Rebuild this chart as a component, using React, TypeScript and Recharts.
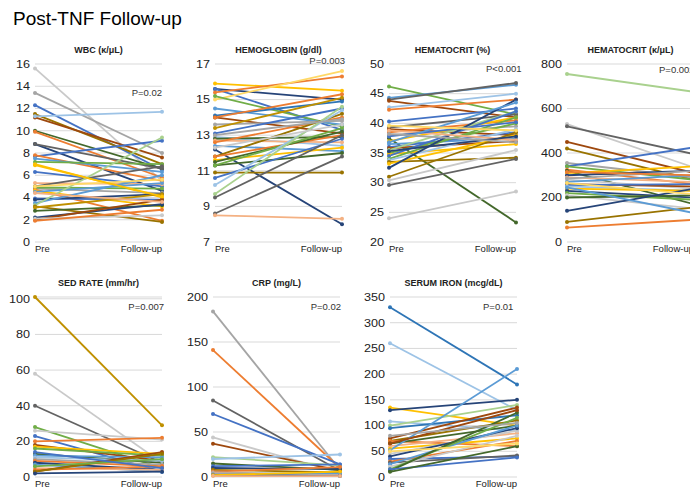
import React from 'react';
import { LineChart, Line, XAxis, YAxis, CartesianGrid } from 'recharts';

// office-style colours
const C: Record<string, string> = {
  B: '#4472C4', O: '#ED7D31', G: '#A5A5A5', Y: '#FFC000', L: '#5B9BD5', N: '#70AD47',
  DB: '#264478', DO: '#9E480E', DG: '#636363', DY: '#997300', LB: '#9DC3E6', LO: '#F4B183',
  LG: '#C9C9C9', LN: '#A9D18E', DN: '#43682B', YL: '#FFD966', GD: '#BF9000', MB: '#2E75B6',
};

const timepoints = ['Pre', 'Follow-up'];

const wbcPre = [15.6, 13.4, 12.3, 11.5, 11.2, 11.3, 10.0, 9.9, 8.8, 8.8, 7.7, 7.8, 7.5, 7.2, 7.0, 6.3, 5.3, 5.0, 4.8, 4.9, 4.7, 4.6, 4.5, 3.9, 3.8, 3.5, 3.3, 3.2, 3.1, 2.8, 2.2, 2.0, 2.1, 1.9, 5.0, 6.9, 4.4];
const wbcPost = [5.5, 8.0, 6.5, 7.0, 7.6, 11.7, 6.6, 5.8, 4.6, 6.6, 9.1, 5.5, 6.3, 7.0, 4.0, 5.0, 5.2, 6.8, 4.4, 4.8, 1.9, 3.2, 5.3, 3.8, 4.3, 6.0, 9.4, 1.8, 4.3, 3.3, 3.4, 3.8, 2.4, 2.9, 5.6, 4.1, 3.6];
const wbcColors = ['LG', 'G', 'B', 'DY', 'DO', 'LB', 'DN', 'O', 'DB', 'DG', 'B', 'O', 'L', 'N', 'Y', 'B', 'LO', 'DG', 'G', 'N', 'O', 'Y', 'L', 'B', 'DB', 'L', 'LN', 'DY', 'GD', 'DN', 'DB', 'DO', 'LG', 'O', 'YL', 'Y', 'LO'];

const hgbPre = [15.9, 15.6, 15.6, 15.4, 15.0, 15.2, 14.5, 14.1, 14.0, 14.0, 13.6, 13.4, 13.1, 12.9, 12.8, 12.7, 12.6, 12.4, 12.2, 11.8, 11.8, 11.6, 11.5, 11.3, 11.3, 10.9, 10.6, 10.2, 9.7, 9.5, 8.6, 8.5, 13.0, 12.3];
const hgbPost = [15.5, 15.0, 13.3, 16.3, 16.6, 13.5, 13.6, 14.9, 13.1, 15.3, 13.8, 15.1, 14.5, 12.4, 12.9, 12.6, 14.0, 12.1, 8.0, 14.2, 13.0, 12.3, 13.2, 12.0, 13.4, 10.9, 12.8, 14.4, 14.6, 13.0, 11.8, 8.3, 13.9, 13.6];
const hgbColors = ['Y', 'DB', 'B', 'O', 'YL', 'N', 'L', 'MB', 'DO', 'O', 'G', 'GD', 'B', 'LB', 'DN', 'LO', 'O', 'L', 'DB', 'DY', 'O', 'Y', 'DN', 'DN', 'N', 'DY', 'B', 'LB', 'LN', 'DG', 'DG', 'LO', 'G', 'LG'];

const hctPre = [46.2, 44.3, 44.0, 43.8, 42.7, 42.3, 40.3, 39.3, 39.0, 38.5, 38.0, 37.5, 37.0, 36.5, 36.0, 35.8, 35.5, 35.0, 34.8, 34.5, 34.0, 33.8, 33.5, 33.2, 32.5, 31.0, 30.4, 29.6, 24.0, 38.8, 37.8, 36.8, 39.6, 35.3, 38.2];
const hctPost = [41.5, 46.5, 46.8, 41.0, 45.0, 44.0, 42.5, 41.5, 38.0, 40.5, 39.5, 23.3, 41.0, 37.5, 38.5, 37.0, 42.0, 40.0, 36.5, 42.0, 41.0, 39.0, 34.2, 38.0, 44.0, 38.5, 35.5, 34.0, 28.5, 37.2, 40.2, 43.5, 38.8, 37.8, 36.8];
const hctColors = ['N', 'L', 'DG', 'DO', 'LB', 'O', 'B', 'DG', 'DO', 'O', 'G', 'DN', 'Y', 'L', 'B', 'DO', 'LN', 'N', 'Y', 'B', 'N', 'LB', 'DY', 'Y', 'DB', 'DY', 'LG', 'DG', 'LG', 'LO', 'B', 'L', 'YL', 'DB', 'G'];

const pltPre = [755, 530, 520, 450, 420, 355, 340, 340, 325, 320, 310, 300, 290, 280, 270, 260, 255, 250, 240, 230, 220, 210, 200, 140, 90, 65, 245, 285, 315, 265];
const pltPost = [675, 335, 395, 310, 280, 290, 425, 280, 260, 170, 340, 320, 270, 240, 300, 250, 260, 230, 230, 200, 190, 150, 210, 240, 155, 100, 130, 320, 300, 215];
const pltColors = ['LN', 'LG', 'DG', 'DO', 'DY', 'G', 'B', 'N', 'O', 'DN', 'Y', 'DB', 'LO', 'LG', 'L', 'DO', 'B', 'LB', 'Y', 'DB', 'N', 'LG', 'DN', 'DB', 'DY', 'O', 'L', 'G', 'O', 'YL'];

const sedPre = [101, 58, 40, 28, 26, 23, 20, 18, 17, 16, 13, 12, 11, 10, 9, 8, 7, 5, 4, 3, 3, 2, 6, 14];
const sedPost = [29, 8, 8, 5, 21, 3, 22, 9, 13, 12, 8, 11, 9, 7, 6, 4, 3, 4, 6, 14, 13, 3, 10, 5];
const sedColors = ['GD', 'LG', 'DG', 'N', 'LG', 'B', 'O', 'DO', 'Y', 'N', 'DN', 'L', 'LB', 'G', 'O', 'DB', 'L', 'LO', 'O', 'DO', 'DY', 'DB', 'N', 'B'];

const crpPre = [184, 141, 85, 70, 44, 37, 22, 20, 15, 12, 10, 8, 6, 5, 4, 3, 2, 2, 1];
const crpPost = [8, 10, 7, 14, 5, 7, 13, 25, 8, 14, 9, 5, 11, 3, 2, 4, 1, 6, 1];
const crpColors = ['G', 'O', 'DG', 'B', 'LG', 'DO', 'LN', 'LB', 'DN', 'B', 'DB', 'DY', 'O', 'G', 'LO', 'L', 'DB', 'Y', 'LO'];

const ironPre = [330, 260, 135, 130, 108, 100, 95, 75, 70, 70, 65, 60, 55, 52, 45, 40, 35, 30, 28, 25, 20, 15, 12, 15, 10, 65, 80, 50];
const ironPost = [180, 130, 100, 150, 90, 140, 120, 135, 110, 60, 100, 85, 75, 210, 90, 95, 40, 70, 42, 100, 80, 115, 125, 38, 60, 130, 105, 65];
const ironColors = ['MB', 'LB', 'Y', 'DB', 'LB', 'LN', 'MB', 'DO', 'DY', 'O', 'DN', 'LO', 'Y', 'L', 'LG', 'DB', 'B', 'O', 'DG', 'L', 'LG', 'N', 'DN', 'B', 'DN', 'DO', 'G', 'YL'];

const FONT = '"Liberation Sans", Arial, sans-serif';
const PLOT_W = 127;
const Y_W = 36;

const YTick = (props: any) => {
  const { x, y, payload } = props;
  return (
    <g transform={`translate(${x},${y}) scale(1.2,1)`}>
      <text x={0} y={0} dy="0.36em" textAnchor="end" fontSize={10.5} fill="#222" fontFamily={FONT}>
        {payload.value}
      </text>
    </g>
  );
};

const XTick = (props: any) => {
  const { x, y, payload, index } = props;
  return (
    <text x={x} y={y} dy="0.71em" textAnchor={index === 0 ? 'start' : 'end'} fontSize={9.5} fill="#222" fontFamily={FONT}>
      {payload.value}
    </text>
  );
};

type PanelProps = {
  title: string;
  pText: string;
  pX: number;
  pY: number;
  pAlign: 'left' | 'right';
  pre: number[];
  post: number[];
  colors: string[];
  domain: [number, number];
  ticks: number[];
  left: number;
  top: number;
  plotH: number;
};

function Panel({ title, pText, pX, pY, pAlign, pre, post, colors, domain, ticks, left, top, plotH }: PanelProps) {
  const data = timepoints.map((name, t) => {
    const row: any = { name };
    pre.forEach((v, i) => {
      row[`s${i}`] = t === 0 ? v : post[i];
    });
    return row;
  });
  return (
    <>
      <div style={{ position: 'absolute', left: left - Y_W, top: top - 8 }}>
        <LineChart width={Y_W + PLOT_W + 6} height={8 + plotH + 20} data={data} margin={{ top: 8, right: 6, bottom: 0, left: 0 }}>
          <CartesianGrid vertical={false} stroke="#d9d9d9" />
          <XAxis dataKey="name" axisLine={false} tickLine={false} tickSize={0} tickMargin={3} height={20} interval={0} tick={<XTick />} />
          <YAxis type="number" domain={domain} ticks={ticks} interval={0} width={Y_W} axisLine={false} tickLine={false} tickSize={0} tickMargin={5} tick={<YTick />} />
          {pre.map((_, i) => (
            <Line
              key={i}
              type="linear"
              dataKey={`s${i}`}
              stroke={C[colors[i]]}
              strokeWidth={1.8}
              dot={{ r: 2, fill: C[colors[i]], stroke: C[colors[i]], strokeWidth: 0 }}
              isAnimationActive={false}
            />
          ))}
        </LineChart>
      </div>
      <div style={{ position: 'absolute', left, width: PLOT_W, top: top - 18, lineHeight: '9px', fontSize: 9, fontWeight: 'bold', textAlign: 'center', color: '#222', whiteSpace: 'nowrap' }}>
        {title}
      </div>
      <div
        style={{
          position: 'absolute',
          top: pY - 5,
          lineHeight: '10px',
          fontSize: 9.5,
          color: '#333',
          whiteSpace: 'nowrap',
          ...(pAlign === 'right' ? { right: 690 - pX } : { left: pX }),
        }}
      >
        {pText}
      </div>
    </>
  );
}

export default function App() {
  return (
    <div style={{ position: 'absolute', left: 0, top: 0, width: 690, height: 489, overflow: 'hidden', background: '#fff', fontFamily: FONT }}>
      <div style={{ position: 'absolute', left: 13, top: 8, fontSize: 19, lineHeight: '22px', color: '#000' }}>Post-TNF Follow-up</div>
      <Panel title="WBC (κ/μL)" pText="P=0.02" pX={162} pY={93} pAlign="right" pre={wbcPre} post={wbcPost} colors={wbcColors}
        domain={[0, 16]} ticks={[0, 2, 4, 6, 8, 10, 12, 14, 16]} left={35} top={64} plotH={178} />
      <Panel title="HEMOGLOBIN (g/dl)" pText="P=0.003" pX={345} pY={61} pAlign="right" pre={hgbPre} post={hgbPost} colors={hgbColors}
        domain={[7, 17]} ticks={[7, 9, 11, 13, 15, 17]} left={215} top={64} plotH={178} />
      <Panel title="HEMATOCRIT (%)" pText="P<0.001" pX={486} pY={69} pAlign="left" pre={hctPre} post={hctPost} colors={hctColors}
        domain={[20, 50]} ticks={[20, 25, 30, 35, 40, 45, 50]} left={389} top={64} plotH={178} />
      <Panel title="HEMATOCRIT (κ/μL)" pText="P=0.002" pX={659} pY={70} pAlign="left" pre={pltPre} post={pltPost} colors={pltColors}
        domain={[0, 800]} ticks={[0, 200, 400, 600, 800]} left={567} top={64} plotH={178} />
      <Panel title="SED RATE (mm/hr)" pText="P=0.007" pX={164} pY={307} pAlign="right" pre={sedPre} post={sedPost} colors={sedColors}
        domain={[0, 100]} ticks={[0, 20, 40, 60, 80, 100]} left={35} top={297} plotH={180} />
      <Panel title="CRP (mg/L)" pText="P=0.02" pX={341} pY={307} pAlign="right" pre={crpPre} post={crpPost} colors={crpColors}
        domain={[0, 200]} ticks={[0, 50, 100, 150, 200]} left={213} top={297} plotH={180} />
      <Panel title="SERUM IRON (mcg/dL)" pText="P=0.01" pX={483} pY={307} pAlign="left" pre={ironPre} post={ironPost} colors={ironColors}
        domain={[0, 350]} ticks={[0, 50, 100, 150, 200, 250, 300, 350]} left={390} top={297} plotH={180} />
    </div>
  );
}
